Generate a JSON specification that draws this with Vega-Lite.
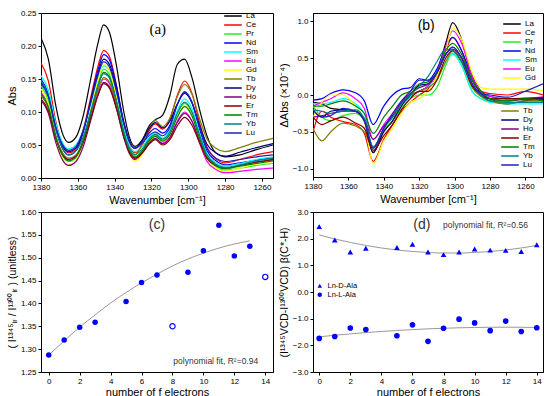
{
"$schema": "https://vega.github.io/schema/vega-lite/v6.json",
"padding": {"left": 5, "top": 8, "right": 5, "bottom": 0},
"config": {
 "font": "Liberation Sans",
 "view": {"stroke": "#000", "strokeWidth": 1},
 "axis": {"grid": false, "domainColor": "#000", "tickColor": "#000", "labelColor": "#000", "titleColor": "#000", "labelFontSize": 8, "titleFontSize": 11, "titleFontWeight": "normal", "tickSize": 3, "labelPadding": 2, "titlePadding": 3, "labelOverlap": false, "labelFlush": false, "tickCount": 20},
 "legend": {"labelFontSize": 8, "labelColor": "#000"},
 "text": {"color": "#000"}
},
"datasets": {
 "a": [
{"w":1380,"v":0.212,"s":"La"},{"w":1376,"v":0.180,"s":"La"},{"w":1372,"v":0.110,"s":"La"},{"w":1368,"v":0.065,"s":"La"},{"w":1365,"v":0.054,"s":"La"},{"w":1361,"v":0.062,"s":"La"},{"w":1357,"v":0.095,"s":"La"},{"w":1353,"v":0.150,"s":"La"},{"w":1349,"v":0.205,"s":"La"},{"w":1346,"v":0.232,"s":"La"},{"w":1343,"v":0.222,"s":"La"},{"w":1339,"v":0.170,"s":"La"},{"w":1335,"v":0.100,"s":"La"},{"w":1332,"v":0.062,"s":"La"},{"w":1329,"v":0.048,"s":"La"},{"w":1325,"v":0.058,"s":"La"},{"w":1321,"v":0.080,"s":"La"},{"w":1318,"v":0.088,"s":"La"},{"w":1314,"v":0.095,"s":"La"},{"w":1310,"v":0.125,"s":"La"},{"w":1306,"v":0.172,"s":"La"},{"w":1302,"v":0.180,"s":"La"},{"w":1298,"v":0.152,"s":"La"},{"w":1294,"v":0.105,"s":"La"},{"w":1290,"v":0.065,"s":"La"},{"w":1285,"v":0.038,"s":"La"},{"w":1280,"v":0.032,"s":"La"},{"w":1272,"v":0.035,"s":"La"},{"w":1263,"v":0.043,"s":"La"},{"w":1254,"v":0.050,"s":"La"},
{"w":1380,"v":0.174,"s":"Ce"},{"w":1376,"v":0.147,"s":"Ce"},{"w":1372,"v":0.086,"s":"Ce"},{"w":1368,"v":0.048,"s":"Ce"},{"w":1365,"v":0.038,"s":"Ce"},{"w":1361,"v":0.045,"s":"Ce"},{"w":1357,"v":0.074,"s":"Ce"},{"w":1353,"v":0.122,"s":"Ce"},{"w":1349,"v":0.170,"s":"Ce"},{"w":1346,"v":0.193,"s":"Ce"},{"w":1343,"v":0.185,"s":"Ce"},{"w":1339,"v":0.140,"s":"Ce"},{"w":1335,"v":0.081,"s":"Ce"},{"w":1332,"v":0.050,"s":"Ce"},{"w":1329,"v":0.038,"s":"Ce"},{"w":1325,"v":0.051,"s":"Ce"},{"w":1321,"v":0.073,"s":"Ce"},{"w":1318,"v":0.082,"s":"Ce"},{"w":1314,"v":0.074,"s":"Ce"},{"w":1310,"v":0.089,"s":"Ce"},{"w":1306,"v":0.125,"s":"Ce"},{"w":1302,"v":0.147,"s":"Ce"},{"w":1298,"v":0.128,"s":"Ce"},{"w":1294,"v":0.085,"s":"Ce"},{"w":1290,"v":0.048,"s":"Ce"},{"w":1285,"v":0.029,"s":"Ce"},{"w":1280,"v":0.023,"s":"Ce"},{"w":1272,"v":0.028,"s":"Ce"},{"w":1263,"v":0.035,"s":"Ce"},{"w":1254,"v":0.040,"s":"Ce"},
{"w":1380,"v":0.140,"s":"Pr"},{"w":1376,"v":0.117,"s":"Pr"},{"w":1372,"v":0.065,"s":"Pr"},{"w":1368,"v":0.033,"s":"Pr"},{"w":1365,"v":0.025,"s":"Pr"},{"w":1361,"v":0.031,"s":"Pr"},{"w":1357,"v":0.057,"s":"Pr"},{"w":1353,"v":0.101,"s":"Pr"},{"w":1349,"v":0.144,"s":"Pr"},{"w":1346,"v":0.165,"s":"Pr"},{"w":1343,"v":0.158,"s":"Pr"},{"w":1339,"v":0.119,"s":"Pr"},{"w":1335,"v":0.068,"s":"Pr"},{"w":1332,"v":0.041,"s":"Pr"},{"w":1329,"v":0.030,"s":"Pr"},{"w":1325,"v":0.041,"s":"Pr"},{"w":1321,"v":0.058,"s":"Pr"},{"w":1318,"v":0.065,"s":"Pr"},{"w":1314,"v":0.058,"s":"Pr"},{"w":1310,"v":0.069,"s":"Pr"},{"w":1306,"v":0.097,"s":"Pr"},{"w":1302,"v":0.113,"s":"Pr"},{"w":1298,"v":0.098,"s":"Pr"},{"w":1294,"v":0.063,"s":"Pr"},{"w":1290,"v":0.032,"s":"Pr"},{"w":1285,"v":0.017,"s":"Pr"},{"w":1280,"v":0.012,"s":"Pr"},{"w":1272,"v":0.015,"s":"Pr"},{"w":1263,"v":0.019,"s":"Pr"},{"w":1254,"v":0.022,"s":"Pr"},
{"w":1380,"v":0.150,"s":"Nd"},{"w":1376,"v":0.127,"s":"Nd"},{"w":1372,"v":0.075,"s":"Nd"},{"w":1368,"v":0.043,"s":"Nd"},{"w":1365,"v":0.035,"s":"Nd"},{"w":1361,"v":0.042,"s":"Nd"},{"w":1357,"v":0.070,"s":"Nd"},{"w":1353,"v":0.117,"s":"Nd"},{"w":1349,"v":0.164,"s":"Nd"},{"w":1346,"v":0.187,"s":"Nd"},{"w":1343,"v":0.180,"s":"Nd"},{"w":1339,"v":0.139,"s":"Nd"},{"w":1335,"v":0.085,"s":"Nd"},{"w":1332,"v":0.056,"s":"Nd"},{"w":1329,"v":0.045,"s":"Nd"},{"w":1325,"v":0.054,"s":"Nd"},{"w":1321,"v":0.069,"s":"Nd"},{"w":1318,"v":0.075,"s":"Nd"},{"w":1314,"v":0.068,"s":"Nd"},{"w":1310,"v":0.080,"s":"Nd"},{"w":1306,"v":0.111,"s":"Nd"},{"w":1302,"v":0.130,"s":"Nd"},{"w":1298,"v":0.114,"s":"Nd"},{"w":1294,"v":0.075,"s":"Nd"},{"w":1290,"v":0.042,"s":"Nd"},{"w":1285,"v":0.026,"s":"Nd"},{"w":1280,"v":0.020,"s":"Nd"},{"w":1272,"v":0.023,"s":"Nd"},{"w":1263,"v":0.027,"s":"Nd"},{"w":1254,"v":0.030,"s":"Nd"},
{"w":1380,"v":0.155,"s":"Sm"},{"w":1376,"v":0.133,"s":"Sm"},{"w":1372,"v":0.083,"s":"Sm"},{"w":1368,"v":0.052,"s":"Sm"},{"w":1365,"v":0.044,"s":"Sm"},{"w":1361,"v":0.050,"s":"Sm"},{"w":1357,"v":0.073,"s":"Sm"},{"w":1353,"v":0.112,"s":"Sm"},{"w":1349,"v":0.151,"s":"Sm"},{"w":1346,"v":0.170,"s":"Sm"},{"w":1343,"v":0.164,"s":"Sm"},{"w":1339,"v":0.126,"s":"Sm"},{"w":1335,"v":0.076,"s":"Sm"},{"w":1332,"v":0.050,"s":"Sm"},{"w":1329,"v":0.040,"s":"Sm"},{"w":1325,"v":0.048,"s":"Sm"},{"w":1321,"v":0.062,"s":"Sm"},{"w":1318,"v":0.068,"s":"Sm"},{"w":1314,"v":0.061,"s":"Sm"},{"w":1310,"v":0.073,"s":"Sm"},{"w":1306,"v":0.102,"s":"Sm"},{"w":1302,"v":0.120,"s":"Sm"},{"w":1298,"v":0.105,"s":"Sm"},{"w":1294,"v":0.069,"s":"Sm"},{"w":1290,"v":0.038,"s":"Sm"},{"w":1285,"v":0.023,"s":"Sm"},{"w":1280,"v":0.018,"s":"Sm"},{"w":1272,"v":0.022,"s":"Sm"},{"w":1263,"v":0.028,"s":"Sm"},{"w":1254,"v":0.032,"s":"Sm"},
{"w":1380,"v":0.130,"s":"Eu"},{"w":1376,"v":0.110,"s":"Eu"},{"w":1372,"v":0.064,"s":"Eu"},{"w":1368,"v":0.035,"s":"Eu"},{"w":1365,"v":0.028,"s":"Eu"},{"w":1361,"v":0.033,"s":"Eu"},{"w":1357,"v":0.056,"s":"Eu"},{"w":1353,"v":0.094,"s":"Eu"},{"w":1349,"v":0.132,"s":"Eu"},{"w":1346,"v":0.150,"s":"Eu"},{"w":1343,"v":0.144,"s":"Eu"},{"w":1339,"v":0.109,"s":"Eu"},{"w":1335,"v":0.064,"s":"Eu"},{"w":1332,"v":0.040,"s":"Eu"},{"w":1329,"v":0.030,"s":"Eu"},{"w":1325,"v":0.039,"s":"Eu"},{"w":1321,"v":0.054,"s":"Eu"},{"w":1318,"v":0.060,"s":"Eu"},{"w":1314,"v":0.053,"s":"Eu"},{"w":1310,"v":0.062,"s":"Eu"},{"w":1306,"v":0.086,"s":"Eu"},{"w":1302,"v":0.100,"s":"Eu"},{"w":1298,"v":0.086,"s":"Eu"},{"w":1294,"v":0.054,"s":"Eu"},{"w":1290,"v":0.026,"s":"Eu"},{"w":1285,"v":0.013,"s":"Eu"},{"w":1280,"v":0.008,"s":"Eu"},{"w":1272,"v":0.010,"s":"Eu"},{"w":1263,"v":0.013,"s":"Eu"},{"w":1254,"v":0.015,"s":"Eu"},
{"w":1380,"v":0.135,"s":"Gd"},{"w":1376,"v":0.112,"s":"Gd"},{"w":1372,"v":0.060,"s":"Gd"},{"w":1368,"v":0.028,"s":"Gd"},{"w":1365,"v":0.020,"s":"Gd"},{"w":1361,"v":0.027,"s":"Gd"},{"w":1357,"v":0.055,"s":"Gd"},{"w":1353,"v":0.102,"s":"Gd"},{"w":1349,"v":0.149,"s":"Gd"},{"w":1346,"v":0.172,"s":"Gd"},{"w":1343,"v":0.165,"s":"Gd"},{"w":1339,"v":0.122,"s":"Gd"},{"w":1335,"v":0.066,"s":"Gd"},{"w":1332,"v":0.037,"s":"Gd"},{"w":1329,"v":0.025,"s":"Gd"},{"w":1325,"v":0.036,"s":"Gd"},{"w":1321,"v":0.055,"s":"Gd"},{"w":1318,"v":0.062,"s":"Gd"},{"w":1314,"v":0.055,"s":"Gd"},{"w":1310,"v":0.066,"s":"Gd"},{"w":1306,"v":0.094,"s":"Gd"},{"w":1302,"v":0.110,"s":"Gd"},{"w":1298,"v":0.095,"s":"Gd"},{"w":1294,"v":0.060,"s":"Gd"},{"w":1290,"v":0.030,"s":"Gd"},{"w":1285,"v":0.015,"s":"Gd"},{"w":1280,"v":0.010,"s":"Gd"},{"w":1272,"v":0.015,"s":"Gd"},{"w":1263,"v":0.021,"s":"Gd"},{"w":1254,"v":0.025,"s":"Gd"},
{"w":1380,"v":0.125,"s":"Tb"},{"w":1376,"v":0.106,"s":"Tb"},{"w":1372,"v":0.063,"s":"Tb"},{"w":1368,"v":0.037,"s":"Tb"},{"w":1365,"v":0.030,"s":"Tb"},{"w":1361,"v":0.035,"s":"Tb"},{"w":1357,"v":0.058,"s":"Tb"},{"w":1353,"v":0.096,"s":"Tb"},{"w":1349,"v":0.134,"s":"Tb"},{"w":1346,"v":0.152,"s":"Tb"},{"w":1343,"v":0.146,"s":"Tb"},{"w":1339,"v":0.112,"s":"Tb"},{"w":1335,"v":0.068,"s":"Tb"},{"w":1332,"v":0.044,"s":"Tb"},{"w":1329,"v":0.035,"s":"Tb"},{"w":1325,"v":0.051,"s":"Tb"},{"w":1321,"v":0.077,"s":"Tb"},{"w":1318,"v":0.087,"s":"Tb"},{"w":1314,"v":0.078,"s":"Tb"},{"w":1310,"v":0.091,"s":"Tb"},{"w":1306,"v":0.123,"s":"Tb"},{"w":1302,"v":0.142,"s":"Tb"},{"w":1298,"v":0.127,"s":"Tb"},{"w":1294,"v":0.091,"s":"Tb"},{"w":1290,"v":0.060,"s":"Tb"},{"w":1285,"v":0.045,"s":"Tb"},{"w":1280,"v":0.040,"s":"Tb"},{"w":1272,"v":0.046,"s":"Tb"},{"w":1263,"v":0.054,"s":"Tb"},{"w":1254,"v":0.060,"s":"Tb"},
{"w":1380,"v":0.145,"s":"Dy"},{"w":1376,"v":0.124,"s":"Dy"},{"w":1372,"v":0.077,"s":"Dy"},{"w":1368,"v":0.047,"s":"Dy"},{"w":1365,"v":0.040,"s":"Dy"},{"w":1361,"v":0.046,"s":"Dy"},{"w":1357,"v":0.072,"s":"Dy"},{"w":1353,"v":0.116,"s":"Dy"},{"w":1349,"v":0.159,"s":"Dy"},{"w":1346,"v":0.180,"s":"Dy"},{"w":1343,"v":0.173,"s":"Dy"},{"w":1339,"v":0.134,"s":"Dy"},{"w":1335,"v":0.083,"s":"Dy"},{"w":1332,"v":0.056,"s":"Dy"},{"w":1329,"v":0.045,"s":"Dy"},{"w":1325,"v":0.057,"s":"Dy"},{"w":1321,"v":0.076,"s":"Dy"},{"w":1318,"v":0.084,"s":"Dy"},{"w":1314,"v":0.076,"s":"Dy"},{"w":1310,"v":0.086,"s":"Dy"},{"w":1306,"v":0.112,"s":"Dy"},{"w":1302,"v":0.128,"s":"Dy"},{"w":1298,"v":0.114,"s":"Dy"},{"w":1294,"v":0.081,"s":"Dy"},{"w":1290,"v":0.052,"s":"Dy"},{"w":1285,"v":0.038,"s":"Dy"},{"w":1280,"v":0.033,"s":"Dy"},{"w":1272,"v":0.039,"s":"Dy"},{"w":1263,"v":0.046,"s":"Dy"},{"w":1254,"v":0.052,"s":"Dy"},
{"w":1380,"v":0.118,"s":"Ho"},{"w":1376,"v":0.098,"s":"Ho"},{"w":1372,"v":0.054,"s":"Ho"},{"w":1368,"v":0.026,"s":"Ho"},{"w":1365,"v":0.019,"s":"Ho"},{"w":1361,"v":0.025,"s":"Ho"},{"w":1357,"v":0.048,"s":"Ho"},{"w":1353,"v":0.087,"s":"Ho"},{"w":1349,"v":0.126,"s":"Ho"},{"w":1346,"v":0.145,"s":"Ho"},{"w":1343,"v":0.139,"s":"Ho"},{"w":1339,"v":0.105,"s":"Ho"},{"w":1335,"v":0.061,"s":"Ho"},{"w":1332,"v":0.037,"s":"Ho"},{"w":1329,"v":0.028,"s":"Ho"},{"w":1325,"v":0.038,"s":"Ho"},{"w":1321,"v":0.054,"s":"Ho"},{"w":1318,"v":0.060,"s":"Ho"},{"w":1314,"v":0.052,"s":"Ho"},{"w":1310,"v":0.061,"s":"Ho"},{"w":1306,"v":0.084,"s":"Ho"},{"w":1302,"v":0.098,"s":"Ho"},{"w":1298,"v":0.086,"s":"Ho"},{"w":1294,"v":0.057,"s":"Ho"},{"w":1290,"v":0.032,"s":"Ho"},{"w":1285,"v":0.019,"s":"Ho"},{"w":1280,"v":0.015,"s":"Ho"},{"w":1272,"v":0.019,"s":"Ho"},{"w":1263,"v":0.024,"s":"Ho"},{"w":1254,"v":0.028,"s":"Ho"},
{"w":1380,"v":0.120,"s":"Er"},{"w":1376,"v":0.102,"s":"Er"},{"w":1372,"v":0.060,"s":"Er"},{"w":1368,"v":0.034,"s":"Er"},{"w":1365,"v":0.028,"s":"Er"},{"w":1361,"v":0.033,"s":"Er"},{"w":1357,"v":0.054,"s":"Er"},{"w":1353,"v":0.090,"s":"Er"},{"w":1349,"v":0.126,"s":"Er"},{"w":1346,"v":0.143,"s":"Er"},{"w":1343,"v":0.137,"s":"Er"},{"w":1339,"v":0.105,"s":"Er"},{"w":1335,"v":0.062,"s":"Er"},{"w":1332,"v":0.039,"s":"Er"},{"w":1329,"v":0.030,"s":"Er"},{"w":1325,"v":0.038,"s":"Er"},{"w":1321,"v":0.052,"s":"Er"},{"w":1318,"v":0.058,"s":"Er"},{"w":1314,"v":0.050,"s":"Er"},{"w":1310,"v":0.058,"s":"Er"},{"w":1306,"v":0.079,"s":"Er"},{"w":1302,"v":0.092,"s":"Er"},{"w":1298,"v":0.080,"s":"Er"},{"w":1294,"v":0.054,"s":"Er"},{"w":1290,"v":0.030,"s":"Er"},{"w":1285,"v":0.019,"s":"Er"},{"w":1280,"v":0.015,"s":"Er"},{"w":1272,"v":0.019,"s":"Er"},{"w":1263,"v":0.024,"s":"Er"},{"w":1254,"v":0.028,"s":"Er"},
{"w":1380,"v":0.128,"s":"Tm"},{"w":1376,"v":0.108,"s":"Tm"},{"w":1372,"v":0.062,"s":"Tm"},{"w":1368,"v":0.033,"s":"Tm"},{"w":1365,"v":0.026,"s":"Tm"},{"w":1361,"v":0.032,"s":"Tm"},{"w":1357,"v":0.057,"s":"Tm"},{"w":1353,"v":0.098,"s":"Tm"},{"w":1349,"v":0.140,"s":"Tm"},{"w":1346,"v":0.160,"s":"Tm"},{"w":1343,"v":0.154,"s":"Tm"},{"w":1339,"v":0.116,"s":"Tm"},{"w":1335,"v":0.068,"s":"Tm"},{"w":1332,"v":0.042,"s":"Tm"},{"w":1329,"v":0.032,"s":"Tm"},{"w":1325,"v":0.041,"s":"Tm"},{"w":1321,"v":0.057,"s":"Tm"},{"w":1318,"v":0.063,"s":"Tm"},{"w":1314,"v":0.056,"s":"Tm"},{"w":1310,"v":0.066,"s":"Tm"},{"w":1306,"v":0.092,"s":"Tm"},{"w":1302,"v":0.108,"s":"Tm"},{"w":1298,"v":0.094,"s":"Tm"},{"w":1294,"v":0.061,"s":"Tm"},{"w":1290,"v":0.033,"s":"Tm"},{"w":1285,"v":0.019,"s":"Tm"},{"w":1280,"v":0.014,"s":"Tm"},{"w":1272,"v":0.018,"s":"Tm"},{"w":1263,"v":0.022,"s":"Tm"},{"w":1254,"v":0.026,"s":"Tm"},
{"w":1380,"v":0.148,"s":"Yb"},{"w":1376,"v":0.125,"s":"Yb"},{"w":1372,"v":0.075,"s":"Yb"},{"w":1368,"v":0.043,"s":"Yb"},{"w":1365,"v":0.035,"s":"Yb"},{"w":1361,"v":0.041,"s":"Yb"},{"w":1357,"v":0.063,"s":"Yb"},{"w":1353,"v":0.101,"s":"Yb"},{"w":1349,"v":0.140,"s":"Yb"},{"w":1346,"v":0.158,"s":"Yb"},{"w":1343,"v":0.152,"s":"Yb"},{"w":1339,"v":0.116,"s":"Yb"},{"w":1335,"v":0.069,"s":"Yb"},{"w":1332,"v":0.045,"s":"Yb"},{"w":1329,"v":0.035,"s":"Yb"},{"w":1325,"v":0.044,"s":"Yb"},{"w":1321,"v":0.060,"s":"Yb"},{"w":1318,"v":0.066,"s":"Yb"},{"w":1314,"v":0.059,"s":"Yb"},{"w":1310,"v":0.070,"s":"Yb"},{"w":1306,"v":0.098,"s":"Yb"},{"w":1302,"v":0.115,"s":"Yb"},{"w":1298,"v":0.100,"s":"Yb"},{"w":1294,"v":0.066,"s":"Yb"},{"w":1290,"v":0.036,"s":"Yb"},{"w":1285,"v":0.021,"s":"Yb"},{"w":1280,"v":0.016,"s":"Yb"},{"w":1272,"v":0.020,"s":"Yb"},{"w":1263,"v":0.026,"s":"Yb"},{"w":1254,"v":0.030,"s":"Yb"},
{"w":1380,"v":0.143,"s":"Lu"},{"w":1376,"v":0.123,"s":"Lu"},{"w":1372,"v":0.077,"s":"Lu"},{"w":1368,"v":0.049,"s":"Lu"},{"w":1365,"v":0.042,"s":"Lu"},{"w":1361,"v":0.048,"s":"Lu"},{"w":1357,"v":0.073,"s":"Lu"},{"w":1353,"v":0.114,"s":"Lu"},{"w":1349,"v":0.156,"s":"Lu"},{"w":1346,"v":0.176,"s":"Lu"},{"w":1343,"v":0.169,"s":"Lu"},{"w":1339,"v":0.131,"s":"Lu"},{"w":1335,"v":0.082,"s":"Lu"},{"w":1332,"v":0.055,"s":"Lu"},{"w":1329,"v":0.045,"s":"Lu"},{"w":1325,"v":0.053,"s":"Lu"},{"w":1321,"v":0.065,"s":"Lu"},{"w":1318,"v":0.070,"s":"Lu"},{"w":1314,"v":0.064,"s":"Lu"},{"w":1310,"v":0.077,"s":"Lu"},{"w":1306,"v":0.111,"s":"Lu"},{"w":1302,"v":0.131,"s":"Lu"},{"w":1298,"v":0.115,"s":"Lu"},{"w":1294,"v":0.078,"s":"Lu"},{"w":1290,"v":0.046,"s":"Lu"},{"w":1285,"v":0.030,"s":"Lu"},{"w":1280,"v":0.025,"s":"Lu"},{"w":1272,"v":0.028,"s":"Lu"},{"w":1263,"v":0.032,"s":"Lu"},{"w":1254,"v":0.035,"s":"Lu"}
 ],
 "b": [
{"w":1380,"v":-0.10,"s":"La"},{"w":1375,"v":-0.12,"s":"La"},{"w":1370,"v":-0.18,"s":"La"},{"w":1363,"v":-0.20,"s":"La"},{"w":1356,"v":-0.22,"s":"La"},{"w":1351,"v":-0.35,"s":"La"},{"w":1346,"v":-0.78,"s":"La"},{"w":1340,"v":-0.45,"s":"La"},{"w":1335,"v":-0.28,"s":"La"},{"w":1330,"v":-0.12,"s":"La"},{"w":1325,"v":-0.02,"s":"La"},{"w":1320,"v":0.05,"s":"La"},{"w":1315,"v":0.12,"s":"La"},{"w":1310,"v":0.30,"s":"La"},{"w":1305,"v":0.70,"s":"La"},{"w":1301,"v":0.98,"s":"La"},{"w":1296,"v":0.75,"s":"La"},{"w":1290,"v":0.25,"s":"La"},{"w":1285,"v":0.02,"s":"La"},{"w":1280,"v":-0.05,"s":"La"},{"w":1270,"v":-0.12,"s":"La"},{"w":1260,"v":-0.08,"s":"La"},{"w":1250,"v":-0.06,"s":"La"},
{"w":1380,"v":-0.50,"s":"Ce"},{"w":1375,"v":-0.22,"s":"Ce"},{"w":1370,"v":-0.30,"s":"Ce"},{"w":1363,"v":-0.36,"s":"Ce"},{"w":1356,"v":-0.40,"s":"Ce"},{"w":1351,"v":-0.52,"s":"Ce"},{"w":1346,"v":-0.90,"s":"Ce"},{"w":1340,"v":-0.60,"s":"Ce"},{"w":1335,"v":-0.40,"s":"Ce"},{"w":1330,"v":-0.22,"s":"Ce"},{"w":1325,"v":-0.10,"s":"Ce"},{"w":1320,"v":0.00,"s":"Ce"},{"w":1315,"v":0.08,"s":"Ce"},{"w":1310,"v":0.25,"s":"Ce"},{"w":1305,"v":0.60,"s":"Ce"},{"w":1301,"v":0.78,"s":"Ce"},{"w":1296,"v":0.60,"s":"Ce"},{"w":1290,"v":0.20,"s":"Ce"},{"w":1285,"v":0.05,"s":"Ce"},{"w":1280,"v":0.02,"s":"Ce"},{"w":1270,"v":0.00,"s":"Ce"},{"w":1260,"v":0.05,"s":"Ce"},{"w":1250,"v":0.00,"s":"Ce"},
{"w":1380,"v":-0.15,"s":"Pr"},{"w":1375,"v":-0.30,"s":"Pr"},{"w":1370,"v":-0.35,"s":"Pr"},{"w":1363,"v":-0.28,"s":"Pr"},{"w":1356,"v":-0.25,"s":"Pr"},{"w":1351,"v":-0.35,"s":"Pr"},{"w":1346,"v":-0.72,"s":"Pr"},{"w":1340,"v":-0.48,"s":"Pr"},{"w":1335,"v":-0.35,"s":"Pr"},{"w":1330,"v":-0.18,"s":"Pr"},{"w":1325,"v":-0.05,"s":"Pr"},{"w":1320,"v":0.00,"s":"Pr"},{"w":1315,"v":0.00,"s":"Pr"},{"w":1310,"v":0.10,"s":"Pr"},{"w":1305,"v":0.40,"s":"Pr"},{"w":1301,"v":0.57,"s":"Pr"},{"w":1296,"v":0.40,"s":"Pr"},{"w":1290,"v":0.05,"s":"Pr"},{"w":1285,"v":-0.05,"s":"Pr"},{"w":1280,"v":-0.08,"s":"Pr"},{"w":1270,"v":-0.10,"s":"Pr"},{"w":1260,"v":-0.10,"s":"Pr"},{"w":1250,"v":-0.10,"s":"Pr"},
{"w":1380,"v":-0.07,"s":"Nd"},{"w":1375,"v":-0.05,"s":"Nd"},{"w":1370,"v":0.02,"s":"Nd"},{"w":1363,"v":0.07,"s":"Nd"},{"w":1356,"v":0.03,"s":"Nd"},{"w":1351,"v":-0.08,"s":"Nd"},{"w":1346,"v":-0.40,"s":"Nd"},{"w":1340,"v":-0.15,"s":"Nd"},{"w":1335,"v":0.00,"s":"Nd"},{"w":1330,"v":0.08,"s":"Nd"},{"w":1325,"v":0.10,"s":"Nd"},{"w":1320,"v":0.22,"s":"Nd"},{"w":1315,"v":0.20,"s":"Nd"},{"w":1310,"v":0.35,"s":"Nd"},{"w":1305,"v":0.65,"s":"Nd"},{"w":1301,"v":0.78,"s":"Nd"},{"w":1296,"v":0.60,"s":"Nd"},{"w":1290,"v":0.25,"s":"Nd"},{"w":1285,"v":0.05,"s":"Nd"},{"w":1280,"v":-0.02,"s":"Nd"},{"w":1270,"v":-0.05,"s":"Nd"},{"w":1260,"v":-0.05,"s":"Nd"},{"w":1250,"v":-0.05,"s":"Nd"},
{"w":1380,"v":-0.12,"s":"Sm"},{"w":1375,"v":-0.12,"s":"Sm"},{"w":1370,"v":-0.10,"s":"Sm"},{"w":1363,"v":-0.05,"s":"Sm"},{"w":1356,"v":-0.12,"s":"Sm"},{"w":1351,"v":-0.25,"s":"Sm"},{"w":1346,"v":-0.72,"s":"Sm"},{"w":1340,"v":-0.45,"s":"Sm"},{"w":1335,"v":-0.30,"s":"Sm"},{"w":1330,"v":-0.12,"s":"Sm"},{"w":1325,"v":-0.02,"s":"Sm"},{"w":1320,"v":0.05,"s":"Sm"},{"w":1315,"v":0.10,"s":"Sm"},{"w":1310,"v":0.22,"s":"Sm"},{"w":1305,"v":0.45,"s":"Sm"},{"w":1301,"v":0.55,"s":"Sm"},{"w":1296,"v":0.40,"s":"Sm"},{"w":1290,"v":0.05,"s":"Sm"},{"w":1285,"v":-0.05,"s":"Sm"},{"w":1280,"v":-0.10,"s":"Sm"},{"w":1270,"v":-0.12,"s":"Sm"},{"w":1260,"v":-0.12,"s":"Sm"},{"w":1250,"v":-0.12,"s":"Sm"},
{"w":1380,"v":-0.15,"s":"Eu"},{"w":1375,"v":-0.10,"s":"Eu"},{"w":1370,"v":-0.05,"s":"Eu"},{"w":1363,"v":0.03,"s":"Eu"},{"w":1356,"v":-0.05,"s":"Eu"},{"w":1351,"v":-0.18,"s":"Eu"},{"w":1346,"v":-0.60,"s":"Eu"},{"w":1340,"v":-0.40,"s":"Eu"},{"w":1335,"v":-0.25,"s":"Eu"},{"w":1330,"v":-0.10,"s":"Eu"},{"w":1325,"v":0.00,"s":"Eu"},{"w":1320,"v":0.05,"s":"Eu"},{"w":1315,"v":0.12,"s":"Eu"},{"w":1310,"v":0.30,"s":"Eu"},{"w":1305,"v":0.65,"s":"Eu"},{"w":1301,"v":0.87,"s":"Eu"},{"w":1296,"v":0.70,"s":"Eu"},{"w":1290,"v":0.25,"s":"Eu"},{"w":1285,"v":0.05,"s":"Eu"},{"w":1280,"v":-0.02,"s":"Eu"},{"w":1270,"v":-0.05,"s":"Eu"},{"w":1260,"v":-0.04,"s":"Eu"},{"w":1250,"v":-0.03,"s":"Eu"},
{"w":1380,"v":-0.30,"s":"Gd"},{"w":1375,"v":-0.10,"s":"Gd"},{"w":1370,"v":0.00,"s":"Gd"},{"w":1363,"v":0.00,"s":"Gd"},{"w":1356,"v":-0.15,"s":"Gd"},{"w":1351,"v":-0.35,"s":"Gd"},{"w":1346,"v":-0.93,"s":"Gd"},{"w":1340,"v":-0.62,"s":"Gd"},{"w":1335,"v":-0.45,"s":"Gd"},{"w":1330,"v":-0.25,"s":"Gd"},{"w":1325,"v":-0.10,"s":"Gd"},{"w":1320,"v":-0.05,"s":"Gd"},{"w":1315,"v":0.05,"s":"Gd"},{"w":1310,"v":0.25,"s":"Gd"},{"w":1305,"v":0.60,"s":"Gd"},{"w":1301,"v":0.91,"s":"Gd"},{"w":1296,"v":0.75,"s":"Gd"},{"w":1290,"v":0.30,"s":"Gd"},{"w":1285,"v":0.10,"s":"Gd"},{"w":1280,"v":0.08,"s":"Gd"},{"w":1270,"v":0.08,"s":"Gd"},{"w":1260,"v":0.08,"s":"Gd"},{"w":1250,"v":0.06,"s":"Gd"},
{"w":1380,"v":-0.45,"s":"Tb"},{"w":1375,"v":-0.62,"s":"Tb"},{"w":1370,"v":-0.50,"s":"Tb"},{"w":1363,"v":-0.38,"s":"Tb"},{"w":1356,"v":-0.42,"s":"Tb"},{"w":1351,"v":-0.50,"s":"Tb"},{"w":1346,"v":-0.72,"s":"Tb"},{"w":1340,"v":-0.48,"s":"Tb"},{"w":1335,"v":-0.35,"s":"Tb"},{"w":1330,"v":-0.10,"s":"Tb"},{"w":1325,"v":0.00,"s":"Tb"},{"w":1320,"v":0.05,"s":"Tb"},{"w":1315,"v":0.10,"s":"Tb"},{"w":1310,"v":0.20,"s":"Tb"},{"w":1305,"v":0.45,"s":"Tb"},{"w":1301,"v":0.60,"s":"Tb"},{"w":1296,"v":0.45,"s":"Tb"},{"w":1290,"v":0.10,"s":"Tb"},{"w":1285,"v":-0.02,"s":"Tb"},{"w":1280,"v":-0.08,"s":"Tb"},{"w":1270,"v":-0.12,"s":"Tb"},{"w":1260,"v":-0.08,"s":"Tb"},{"w":1250,"v":-0.08,"s":"Tb"},
{"w":1380,"v":-0.20,"s":"Dy"},{"w":1375,"v":-0.30,"s":"Dy"},{"w":1370,"v":-0.22,"s":"Dy"},{"w":1363,"v":-0.20,"s":"Dy"},{"w":1356,"v":-0.22,"s":"Dy"},{"w":1351,"v":-0.35,"s":"Dy"},{"w":1346,"v":-0.78,"s":"Dy"},{"w":1340,"v":-0.50,"s":"Dy"},{"w":1335,"v":-0.35,"s":"Dy"},{"w":1330,"v":-0.15,"s":"Dy"},{"w":1325,"v":0.00,"s":"Dy"},{"w":1320,"v":0.13,"s":"Dy"},{"w":1315,"v":0.15,"s":"Dy"},{"w":1310,"v":0.30,"s":"Dy"},{"w":1305,"v":0.55,"s":"Dy"},{"w":1301,"v":0.65,"s":"Dy"},{"w":1296,"v":0.50,"s":"Dy"},{"w":1290,"v":0.15,"s":"Dy"},{"w":1285,"v":0.00,"s":"Dy"},{"w":1280,"v":-0.05,"s":"Dy"},{"w":1270,"v":-0.05,"s":"Dy"},{"w":1260,"v":-0.05,"s":"Dy"},{"w":1250,"v":-0.05,"s":"Dy"},
{"w":1380,"v":-0.30,"s":"Ho"},{"w":1375,"v":-0.28,"s":"Ho"},{"w":1370,"v":-0.25,"s":"Ho"},{"w":1363,"v":-0.22,"s":"Ho"},{"w":1356,"v":-0.22,"s":"Ho"},{"w":1351,"v":-0.32,"s":"Ho"},{"w":1346,"v":-0.60,"s":"Ho"},{"w":1340,"v":-0.42,"s":"Ho"},{"w":1335,"v":-0.30,"s":"Ho"},{"w":1330,"v":-0.10,"s":"Ho"},{"w":1325,"v":0.02,"s":"Ho"},{"w":1320,"v":0.10,"s":"Ho"},{"w":1315,"v":0.15,"s":"Ho"},{"w":1310,"v":0.30,"s":"Ho"},{"w":1305,"v":0.55,"s":"Ho"},{"w":1301,"v":0.62,"s":"Ho"},{"w":1296,"v":0.50,"s":"Ho"},{"w":1290,"v":0.20,"s":"Ho"},{"w":1285,"v":0.02,"s":"Ho"},{"w":1280,"v":-0.05,"s":"Ho"},{"w":1270,"v":-0.08,"s":"Ho"},{"w":1260,"v":-0.06,"s":"Ho"},{"w":1250,"v":-0.06,"s":"Ho"},
{"w":1380,"v":-0.30,"s":"Er"},{"w":1375,"v":-0.40,"s":"Er"},{"w":1370,"v":-0.35,"s":"Er"},{"w":1363,"v":-0.30,"s":"Er"},{"w":1356,"v":-0.38,"s":"Er"},{"w":1351,"v":-0.45,"s":"Er"},{"w":1346,"v":-0.75,"s":"Er"},{"w":1340,"v":-0.55,"s":"Er"},{"w":1335,"v":-0.40,"s":"Er"},{"w":1330,"v":-0.20,"s":"Er"},{"w":1325,"v":-0.05,"s":"Er"},{"w":1320,"v":0.05,"s":"Er"},{"w":1315,"v":0.05,"s":"Er"},{"w":1310,"v":0.20,"s":"Er"},{"w":1305,"v":0.50,"s":"Er"},{"w":1301,"v":0.60,"s":"Er"},{"w":1296,"v":0.45,"s":"Er"},{"w":1290,"v":0.12,"s":"Er"},{"w":1285,"v":0.00,"s":"Er"},{"w":1280,"v":-0.05,"s":"Er"},{"w":1270,"v":-0.05,"s":"Er"},{"w":1260,"v":-0.05,"s":"Er"},{"w":1250,"v":-0.03,"s":"Er"},
{"w":1380,"v":-0.15,"s":"Tm"},{"w":1375,"v":-0.15,"s":"Tm"},{"w":1370,"v":-0.12,"s":"Tm"},{"w":1363,"v":-0.08,"s":"Tm"},{"w":1356,"v":-0.15,"s":"Tm"},{"w":1351,"v":-0.25,"s":"Tm"},{"w":1346,"v":-0.52,"s":"Tm"},{"w":1340,"v":-0.30,"s":"Tm"},{"w":1335,"v":-0.15,"s":"Tm"},{"w":1330,"v":0.00,"s":"Tm"},{"w":1325,"v":0.05,"s":"Tm"},{"w":1320,"v":0.15,"s":"Tm"},{"w":1315,"v":0.18,"s":"Tm"},{"w":1310,"v":0.30,"s":"Tm"},{"w":1305,"v":0.60,"s":"Tm"},{"w":1301,"v":0.70,"s":"Tm"},{"w":1296,"v":0.55,"s":"Tm"},{"w":1290,"v":0.20,"s":"Tm"},{"w":1285,"v":0.05,"s":"Tm"},{"w":1280,"v":-0.05,"s":"Tm"},{"w":1270,"v":-0.08,"s":"Tm"},{"w":1260,"v":-0.05,"s":"Tm"},{"w":1250,"v":-0.08,"s":"Tm"},
{"w":1380,"v":-0.20,"s":"Yb"},{"w":1375,"v":-0.22,"s":"Yb"},{"w":1370,"v":-0.25,"s":"Yb"},{"w":1363,"v":-0.22,"s":"Yb"},{"w":1356,"v":-0.20,"s":"Yb"},{"w":1351,"v":-0.32,"s":"Yb"},{"w":1346,"v":-0.70,"s":"Yb"},{"w":1340,"v":-0.45,"s":"Yb"},{"w":1335,"v":-0.30,"s":"Yb"},{"w":1330,"v":-0.12,"s":"Yb"},{"w":1325,"v":0.00,"s":"Yb"},{"w":1320,"v":0.12,"s":"Yb"},{"w":1315,"v":0.25,"s":"Yb"},{"w":1310,"v":0.45,"s":"Yb"},{"w":1305,"v":0.62,"s":"Yb"},{"w":1301,"v":0.60,"s":"Yb"},{"w":1296,"v":0.45,"s":"Yb"},{"w":1290,"v":0.15,"s":"Yb"},{"w":1285,"v":0.00,"s":"Yb"},{"w":1280,"v":-0.08,"s":"Yb"},{"w":1270,"v":-0.10,"s":"Yb"},{"w":1260,"v":-0.10,"s":"Yb"},{"w":1250,"v":-0.10,"s":"Yb"},
{"w":1380,"v":-0.20,"s":"Lu"},{"w":1375,"v":-0.30,"s":"Lu"},{"w":1370,"v":-0.28,"s":"Lu"},{"w":1363,"v":-0.18,"s":"Lu"},{"w":1356,"v":-0.22,"s":"Lu"},{"w":1351,"v":-0.35,"s":"Lu"},{"w":1346,"v":-0.72,"s":"Lu"},{"w":1340,"v":-0.45,"s":"Lu"},{"w":1335,"v":-0.25,"s":"Lu"},{"w":1330,"v":-0.08,"s":"Lu"},{"w":1325,"v":0.05,"s":"Lu"},{"w":1320,"v":0.20,"s":"Lu"},{"w":1315,"v":0.20,"s":"Lu"},{"w":1310,"v":0.30,"s":"Lu"},{"w":1305,"v":0.55,"s":"Lu"},{"w":1301,"v":0.65,"s":"Lu"},{"w":1296,"v":0.50,"s":"Lu"},{"w":1290,"v":0.15,"s":"Lu"},{"w":1285,"v":0.02,"s":"Lu"},{"w":1280,"v":0.00,"s":"Lu"},{"w":1270,"v":-0.03,"s":"Lu"},{"w":1260,"v":0.05,"s":"Lu"},{"w":1250,"v":0.15,"s":"Lu"}
 ]
},
"spacing": 1,
"resolve": {"scale": {"color": "independent", "stroke": "independent", "shape": "independent", "size": "independent"}},
"vconcat": [
 {
  "hconcat": [
   {
    "width": 232, "height": 165,
    "layer": [
     {
      "data": {"name": "a"},
      "mark": {"type": "line", "interpolate": "monotone", "strokeWidth": 1.2, "clip": true},
      "encoding": {
       "x": {"field": "w", "type": "quantitative", "scale": {"domain": [1254, 1380], "reverse": true, "nice": false, "zero": false}, "axis": {"values": [1380, 1360, 1340, 1320, 1300, 1280, 1260], "tickCount": 20, "format": "d", "labelOverlap": false, "title": "Wavenumber [cm⁻¹]"}},
       "y": {"field": "v", "type": "quantitative", "scale": {"domain": [0, 0.25], "nice": false}, "axis": {"values": [0, 0.05, 0.1, 0.15, 0.2, 0.25], "tickCount": 20, "format": ".2f", "labelOverlap": false, "title": "Abs"}},
       "color": {"field": "s", "type": "nominal", "scale": {"domain": ["La","Ce","Pr","Nd","Sm","Eu","Gd","Tb","Dy","Ho","Er","Tm","Yb","Lu"], "range": ["#000000","#ff0000","#22ee22","#0000ff","#00ffff","#ff00ff","#ffff00","#808000","#000080","#800080","#800000","#008000","#008080","#2020c0"]}, "legend": {"title": null, "orient": "none", "legendX": 187, "legendY": -2, "padding": 0, "symbolType": "M-2.2,0H2.2", "symbolSize": 64, "symbolStrokeWidth": 1.5, "labelFontSize": 8, "rowPadding": -5, "labelOffset": 8}}
      }
     },
     {
      "data": {"values": [{"w": 1316.6, "v": 0.226, "t": "(a)"}]},
      "mark": {"type": "text", "font": "Liberation Serif", "fontSize": 15},
      "encoding": {"x": {"field": "w", "type": "quantitative"}, "y": {"field": "v", "type": "quantitative"}, "text": {"field": "t"}}
     }
    ]
   },
   {
    "width": 230, "height": 164,
    "data": {"name": "b"},
    "layer": [
     {
      "transform": [{"filter": {"field": "s", "oneOf": ["La","Ce","Pr","Nd","Sm","Eu","Gd"]}}],
      "mark": {"type": "line", "interpolate": "monotone", "strokeWidth": 1.2, "clip": true},
      "encoding": {
       "x": {"field": "w", "type": "quantitative", "scale": {"domain": [1250, 1380], "reverse": true, "nice": false, "zero": false}, "axis": {"values": [1380, 1360, 1340, 1320, 1300, 1280, 1260], "tickCount": 20, "format": "d", "labelOverlap": false, "title": "Wavenumber [cm⁻¹]"}},
       "y": {"field": "v", "type": "quantitative", "scale": {"domain": [-1.11, 1.11], "nice": false}, "axis": {"values": [-1, -0.5, 0, 0.5, 1], "tickCount": 20, "format": ".1f", "labelOverlap": false, "title": "ΔAbs (×10⁻⁴)"}},
       "color": {"field": "s", "type": "nominal", "scale": {"domain": ["La","Ce","Pr","Nd","Sm","Eu","Gd"], "range": ["#000000","#ff0000","#22ee22","#0000ff","#00ffff","#ff00ff","#ffff00"]}, "legend": {"title": null, "orient": "top-right", "offset": 6, "padding": 0, "symbolType": "M-2.2,0H2.2", "symbolSize": 64, "symbolStrokeWidth": 1.5, "labelFontSize": 8, "rowPadding": -5, "labelOffset": 8}}
      }
     },
     {
      "transform": [{"filter": {"field": "s", "oneOf": ["Tb","Dy","Ho","Er","Tm","Yb","Lu"]}}],
      "mark": {"type": "line", "interpolate": "monotone", "strokeWidth": 1.2, "clip": true},
      "encoding": {
       "x": {"field": "w", "type": "quantitative"},
       "y": {"field": "v", "type": "quantitative"},
       "stroke": {"field": "s", "type": "nominal", "scale": {"domain": ["Tb","Dy","Ho","Er","Tm","Yb","Lu"], "range": ["#808000","#000080","#800080","#800000","#008000","#008080","#2020c0"]}, "legend": {"title": null, "orient": "bottom-right", "offset": 8, "padding": 0, "symbolType": "M-2.2,0H2.2", "symbolSize": 64, "symbolStrokeWidth": 1.5, "labelFontSize": 8, "rowPadding": -5, "labelOffset": 8}}
      }
     },
     {
      "data": {"values": [{"w": 1316, "v": 0.94, "t": "(b)"}]},
      "mark": {"type": "text", "fontSize": 14},
      "encoding": {"x": {"field": "w", "type": "quantitative"}, "y": {"field": "v", "type": "quantitative"}, "text": {"field": "t"}}
     }
    ]
   }
  ],
  "spacing": 40,
  "bounds": "flush",
  "resolve": {"scale": {"color": "independent", "stroke": "independent", "shape": "independent"}}
 },
 {
  "hconcat": [
   {
    "width": 232, "height": 160,
    "layer": [
     {
      "data": {"values": [{"n":0,"v":1.287},{"n":1,"v":1.318},{"n":2,"v":1.348},{"n":3,"v":1.375},{"n":4,"v":1.401},{"n":5,"v":1.424},{"n":6,"v":1.445},{"n":7,"v":1.464},{"n":8,"v":1.482},{"n":9,"v":1.497},{"n":10,"v":1.510},{"n":11,"v":1.521},{"n":12,"v":1.530},{"n":13,"v":1.537}]},
      "mark": {"type": "line", "interpolate": "monotone", "color": "#999999", "strokeWidth": 1},
      "encoding": {
       "x": {"field": "n", "type": "quantitative", "scale": {"domain": [-0.5, 14.5], "nice": false, "zero": false}, "axis": {"values": [0, 2, 4, 6, 8, 10, 12, 14], "tickCount": 20, "labelOverlap": false, "title": "number of f electrons", "titlePadding": 1}},
       "y": {"field": "v", "type": "quantitative", "scale": {"domain": [1.25, 1.6], "nice": false, "zero": false}, "axis": {"values": [1.25, 1.3, 1.35, 1.4, 1.45, 1.5, 1.55, 1.6], "tickCount": 20, "format": ".2f", "labelOverlap": false, "title": "( I¹³⁴⁵ᵢᵣ / I¹³⁰⁰ᵢᵣ ) (unitless)", "titleFontSize": 10.5}}
      }
     },
     {
      "data": {"values": [{"n":0,"v":1.287},{"n":1,"v":1.320},{"n":2,"v":1.348},{"n":3,"v":1.359},{"n":5,"v":1.404},{"n":6,"v":1.446},{"n":7,"v":1.462},{"n":9,"v":1.468},{"n":10,"v":1.515},{"n":11,"v":1.571},{"n":12,"v":1.504},{"n":13,"v":1.525}]},
      "mark": {"type": "point", "filled": true, "color": "#0000ff", "size": 30, "opacity": 1},
      "encoding": {"x": {"field": "n", "type": "quantitative"}, "y": {"field": "v", "type": "quantitative"}}
     },
     {
      "data": {"values": [{"n":8,"v":1.350},{"n":14,"v":1.458}]},
      "mark": {"type": "point", "filled": false, "color": "#0000ff", "size": 28, "strokeWidth": 1.2, "opacity": 1},
      "encoding": {"x": {"field": "n", "type": "quantitative"}, "y": {"field": "v", "type": "quantitative"}}
     },
     {
      "data": {"values": [{"n": 7, "v": 1.572, "t": "(c)", "k": "big"}, {"n": 10.8, "v": 1.273, "t": "polynomial fit, R²=0.94", "k": "small"}]},
      "mark": {"type": "text"},
      "encoding": {"x": {"field": "n", "type": "quantitative"}, "y": {"field": "v", "type": "quantitative"}, "text": {"field": "t"}, "size": {"field": "k", "type": "nominal", "scale": {"domain": ["big", "small"], "range": [14, 8.5]}, "legend": null}, "color": {"value": "#333"}}
     }
    ]
   },
   {
    "width": 230, "height": 160,
    "layer": [
     {
      "data": {"values": [{"n":0,"v":2.140,"g":"D"},{"n":1,"v":1.989,"g":"D"},{"n":2,"v":1.858,"g":"D"},{"n":3,"v":1.745,"g":"D"},{"n":4,"v":1.651,"g":"D"},{"n":5,"v":1.575,"g":"D"},{"n":6,"v":1.519,"g":"D"},{"n":7,"v":1.481,"g":"D"},{"n":8,"v":1.462,"g":"D"},{"n":9,"v":1.462,"g":"D"},{"n":10,"v":1.481,"g":"D"},{"n":11,"v":1.519,"g":"D"},{"n":12,"v":1.575,"g":"D"},{"n":13,"v":1.651,"g":"D"},{"n":14,"v":1.745,"g":"D"},
       {"n":0,"v":-1.680,"g":"L"},{"n":1,"v":-1.622,"g":"L"},{"n":2,"v":-1.570,"g":"L"},{"n":3,"v":-1.522,"g":"L"},{"n":4,"v":-1.480,"g":"L"},{"n":5,"v":-1.442,"g":"L"},{"n":6,"v":-1.410,"g":"L"},{"n":7,"v":-1.382,"g":"L"},{"n":8,"v":-1.360,"g":"L"},{"n":9,"v":-1.342,"g":"L"},{"n":10,"v":-1.330,"g":"L"},{"n":11,"v":-1.322,"g":"L"},{"n":12,"v":-1.320,"g":"L"},{"n":13,"v":-1.322,"g":"L"},{"n":14,"v":-1.330,"g":"L"}]},
      "mark": {"type": "line", "interpolate": "monotone", "color": "#999999", "strokeWidth": 1},
      "encoding": {
       "x": {"field": "n", "type": "quantitative", "scale": {"domain": [-0.4, 14.4], "nice": false, "zero": false}, "axis": {"values": [0, 2, 4, 6, 8, 10, 12, 14], "tickCount": 20, "labelOverlap": false, "title": "number of f electrons", "titlePadding": 1}},
       "y": {"field": "v", "type": "quantitative", "scale": {"domain": [-3, 3], "nice": false}, "axis": {"values": [-3, -2, -1, 0, 1, 2, 3], "tickCount": 20, "labelOverlap": false, "title": "(I¹³⁴⁵VCD-I¹³⁰⁰VCD) β(C*-H)", "titleFontSize": 10.5}},
       "detail": {"field": "g"}
      }
     },
     {
      "data": {"values": [{"n":0,"v":2.45,"g":"Ln-D-Ala"},{"n":1,"v":1.95,"g":"Ln-D-Ala"},{"n":2,"v":1.50,"g":"Ln-D-Ala"},{"n":3,"v":1.64,"g":"Ln-D-Ala"},{"n":5,"v":1.67,"g":"Ln-D-Ala"},{"n":6,"v":1.79,"g":"Ln-D-Ala"},{"n":7,"v":1.50,"g":"Ln-D-Ala"},{"n":8,"v":1.40,"g":"Ln-D-Ala"},{"n":9,"v":1.50,"g":"Ln-D-Ala"},{"n":10,"v":1.61,"g":"Ln-D-Ala"},{"n":11,"v":1.57,"g":"Ln-D-Ala"},{"n":12,"v":1.56,"g":"Ln-D-Ala"},{"n":13,"v":1.52,"g":"Ln-D-Ala"},{"n":14,"v":1.77,"g":"Ln-D-Ala"},
       {"n":0,"v":-1.74,"g":"Ln-L-Ala"},{"n":1,"v":-1.67,"g":"Ln-L-Ala"},{"n":2,"v":-1.35,"g":"Ln-L-Ala"},{"n":3,"v":-1.41,"g":"Ln-L-Ala"},{"n":5,"v":-1.64,"g":"Ln-L-Ala"},{"n":6,"v":-1.23,"g":"Ln-L-Ala"},{"n":7,"v":-1.85,"g":"Ln-L-Ala"},{"n":8,"v":-1.36,"g":"Ln-L-Ala"},{"n":9,"v":-1.02,"g":"Ln-L-Ala"},{"n":10,"v":-1.16,"g":"Ln-L-Ala"},{"n":11,"v":-1.45,"g":"Ln-L-Ala"},{"n":12,"v":-1.09,"g":"Ln-L-Ala"},{"n":13,"v":-1.48,"g":"Ln-L-Ala"},{"n":14,"v":-1.34,"g":"Ln-L-Ala"}]},
      "mark": {"type": "point", "filled": true, "color": "#0000ff", "size": 32, "opacity": 1},
      "encoding": {
       "x": {"field": "n", "type": "quantitative"},
       "y": {"field": "v", "type": "quantitative"},
       "shape": {"field": "g", "type": "nominal", "scale": {"domain": ["Ln-D-Ala", "Ln-L-Ala"], "range": ["triangle-up", "circle"]}, "legend": {"title": null, "orient": "none", "legendX": 3, "legendY": 70, "symbolFillColor": "#0000ff", "symbolStrokeColor": "#0000ff", "symbolSize": 20, "labelFontSize": 7.5, "rowPadding": -2, "labelOffset": 4, "padding": 0}}
      }
     },
     {
      "data": {"values": [{"n": 6.6, "v": 2.52, "t": "(d)", "k": "big"}, {"n": 10.7, "v": 2.52, "t": "polynomial fit, R²=0.56", "k": "small"}]},
      "mark": {"type": "text"},
      "encoding": {"x": {"field": "n", "type": "quantitative"}, "y": {"field": "v", "type": "quantitative"}, "text": {"field": "t"}, "size": {"field": "k", "type": "nominal", "scale": {"domain": ["big", "small"], "range": [14, 8.5]}, "legend": null}, "color": {"value": "#333"}}
     }
    ]
   }
  ],
  "spacing": 40,
  "bounds": "flush",
  "resolve": {"scale": {"color": "independent", "stroke": "independent", "shape": "independent", "size": "independent"}}
 }
]
}
